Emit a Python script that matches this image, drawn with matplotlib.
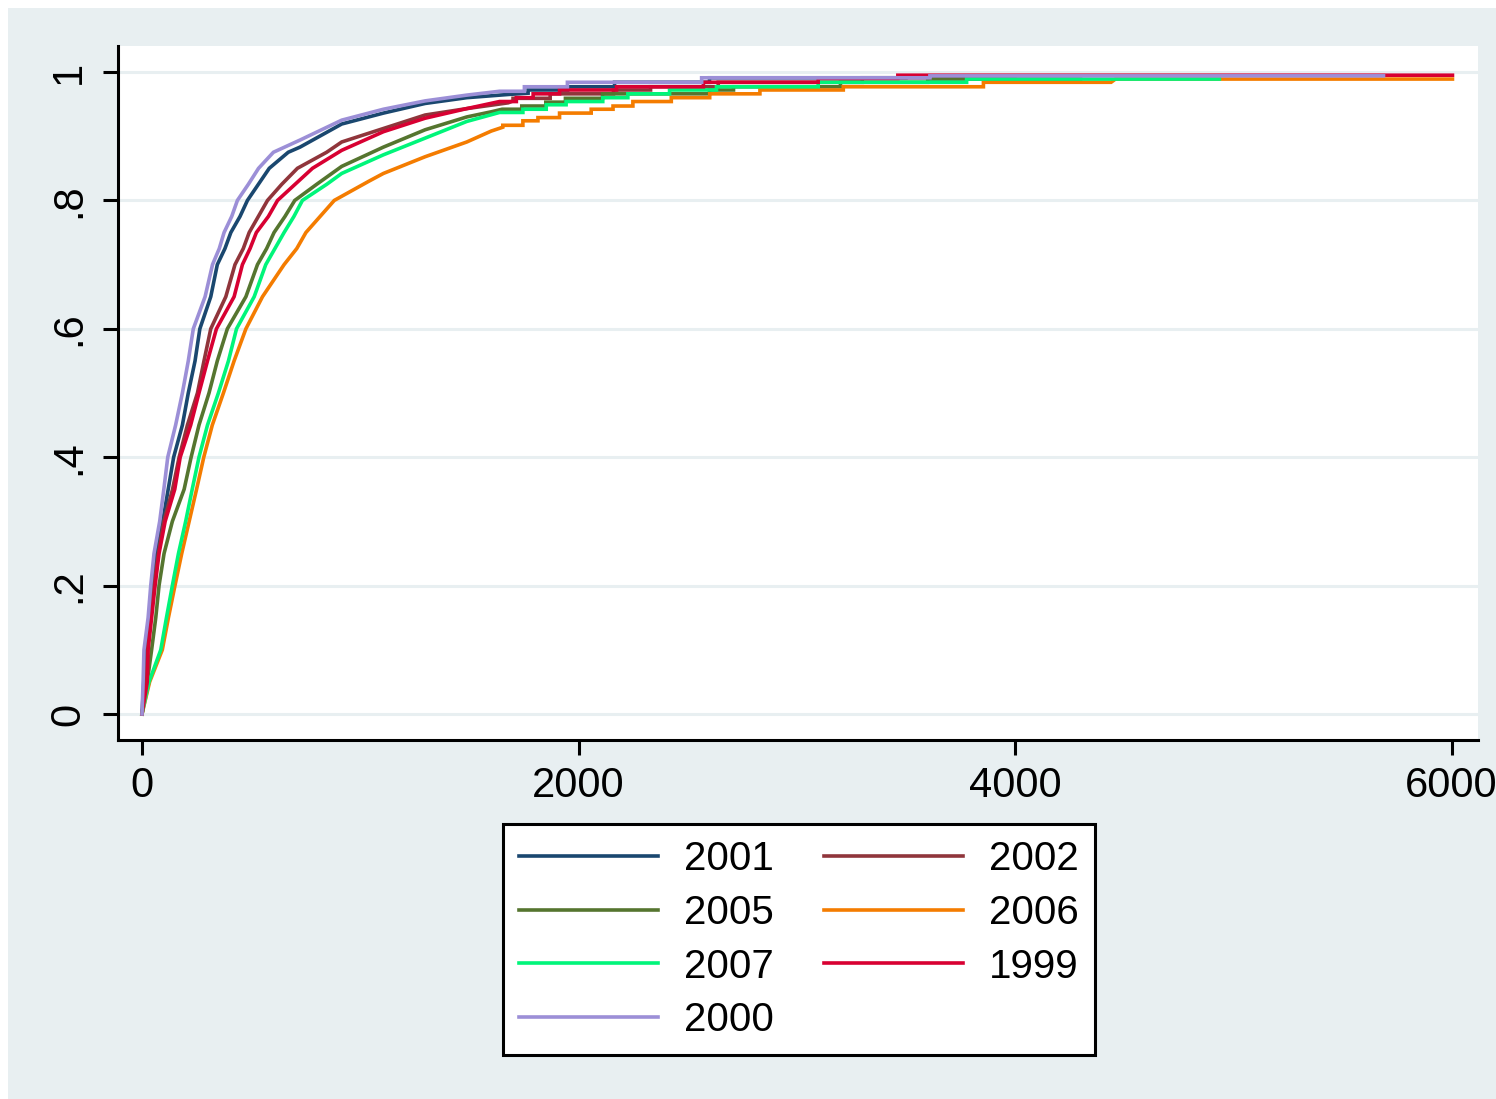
import matplotlib
matplotlib.use("Agg")
import matplotlib.pyplot as plt
from matplotlib.patches import Rectangle
from matplotlib.lines import Line2D

plt.rcParams['font.family'] = ['Liberation Sans', 'DejaVu Sans']

# cumulative share by duration (days), one series per cohort year
years = ["2001", "2002", "2005", "2006", "2007", "1999", "2000"]
colors = ["#1a476f", "#90353b", "#55752f", "#f47c00", "#00f57a", "#d80032", "#9c8fd7"]

x_2001 = [0, 8, 18, 35, 50, 68, 95, 120, 145, 185, 212, 243, 265, 315, 345, 380, 407, 449, 483,
          533, 583, 670, 724, 915, 1106, 1297, 1488, 1678, 1769, 1769, 1950, 1950, 2165, 2165,
          2600, 2600, 3500]
F_2001 = [0, .05, .10, .15, .20, .25, .30, .35, .40, .45, .50, .55, .60, .65, .70, .725, .75,
          .775, .80, .825, .85, .875, .883, .919, .936, .951, .960, .965, .967, .972, .972, .977,
          .977, .984, .984, .991, .991]

x_2002 = [0, 20, 25, 40, 55, 75, 100, 140, 170, 208, 254, 284, 315, 384, 426, 464, 491, 533, 575,
          640, 712, 846, 915, 1106, 1297, 1488, 1678, 1700, 1700, 1870, 1870, 2160, 2160, 2330,
          2330, 2640, 2640, 3300, 3300, 4000]
F_2002 = [0, .05, .10, .15, .20, .25, .30, .35, .40, .45, .50, .55, .60, .65, .70, .725, .75,
          .775, .80, .825, .85, .875, .891, .912, .933, .943, .952, .955, .959, .959, .966, .966,
          .972, .972, .977, .977, .984, .984, .991, .991]

x_2005 = [0, 24, 44, 63, 78, 101, 139, 193, 225, 261, 307, 345, 391, 476, 529, 571, 605, 655, 700,
          800, 915, 1106, 1297, 1488, 1600, 1650, 1740, 1740, 1850, 1850, 1940, 1940, 2110, 2110,
          2600, 2600, 2710, 2710, 3200, 3200, 3600, 3600, 4300]
F_2005 = [0, .05, .10, .15, .20, .25, .30, .35, .40, .45, .50, .55, .60, .65, .70, .725, .75,
          .775, .80, .825, .853, .883, .910, .930, .938, .942, .942, .947, .947, .953, .953, .959,
          .959, .966, .966, .972, .972, .977, .977, .984, .984, .989, .989]

x_2006 = [0, 35, 93, 121, 151, 182, 216, 250, 283, 322, 373, 422, 476, 552, 651, 709, 751, 816,
          881, 1040, 1106, 1297, 1488, 1600, 1653, 1653, 1745, 1745, 1814, 1814, 1913, 1913, 2058,
          2058, 2158, 2158, 2249, 2249, 2425, 2425, 2601, 2601, 2831, 2831, 3213, 3213, 3855,
          3855, 4440, 4460, 6004]
F_2006 = [0, .05, .10, .15, .20, .25, .30, .35, .40, .45, .50, .55, .60, .65, .70, .725, .75,
          .775, .80, .83, .842, .868, .891, .908, .914, .917, .917, .924, .924, .929, .929, .936,
          .936, .942, .942, .947, .947, .954, .954, .960, .960, .966, .966, .972, .972, .977,
          .977, .984, .984, .989, .989]

x_2007 = [0, 32, 86, 112, 139, 167, 200, 230, 261, 300, 350, 396, 433, 514, 567, 609, 651, 696,
          735, 846, 915, 1106, 1297, 1488, 1638, 1745, 1745, 1852, 1852, 1943, 1943, 2111, 2111,
          2226, 2226, 2417, 2417, 2632, 2632, 3098, 3098, 3778, 3778, 4936]
F_2007 = [0, .05, .10, .15, .20, .25, .30, .35, .40, .45, .50, .55, .60, .65, .70, .725, .75,
          .775, .80, .825, .842, .871, .897, .923, .937, .937, .942, .942, .949, .949, .954, .954,
          .960, .960, .966, .966, .972, .972, .977, .977, .984, .984, .989, .989]

x_1999 = [0, 24, 28, 44, 60, 78, 106, 150, 175, 223, 261, 300, 341, 422, 460, 495, 524, 579, 621,
          701, 781, 915, 1106, 1297, 1488, 1638, 1715, 1715, 1792, 1792, 1913, 1913, 2174, 2174,
          2572, 2572, 3098, 3098, 3463, 3463, 6004]
F_1999 = [0, .05, .10, .15, .20, .25, .30, .35, .40, .45, .50, .55, .60, .65, .70, .725, .75,
          .775, .80, .825, .85, .878, .907, .928, .943, .954, .954, .960, .960, .966, .966, .972,
          .972, .977, .977, .984, .984, .990, .990, .995, .995]

x_2000 = [0, 5, 9, 28, 40, 55, 81, 100, 118, 154, 185, 212, 235, 289, 323, 354, 376, 411, 437,
          487, 534, 602, 724, 915, 1106, 1297, 1488, 1638, 1752, 1752, 1949, 1949, 2564, 2564,
          3610, 3610, 5688]
F_2000 = [0, .05, .10, .15, .20, .25, .30, .35, .40, .45, .50, .55, .60, .65, .70, .725, .75,
          .775, .80, .825, .85, .875, .894, .925, .942, .955, .964, .970, .970, .977, .977, .984,
          .984, .991, .991, .994, .994]

series = [(x_2001, F_2001), (x_2002, F_2002), (x_2005, F_2005), (x_2006, F_2006),
          (x_2007, F_2007), (x_1999, F_1999), (x_2000, F_2000)]

bg = "#e8eff1"
W, H = 1496, 1099

fig = plt.figure(figsize=(W / 100, H / 100), dpi=100, facecolor="white")
fig.patches.append(Rectangle((8 / W, 0), 1 - 8 / W, 1 - 8 / H, transform=fig.transFigure,
                             facecolor=bg, edgecolor="none", zorder=-10))

ax = fig.add_axes([118 / W, 1 - 740 / H, (1478 - 118) / W, (740 - 46) / H])
ax.set_facecolor("white")

for (xs, fs), c in zip(series, colors):
    ax.plot(xs, fs, color=c, lw=2.6, solid_joinstyle="miter")

ax.set_xlim(-110, 6121)
ax.set_ylim(-0.0405, 1.0405)
ax.set_xticks([0, 2000, 4000, 6000])
ax.set_xticklabels(["0", "2000", "4000", "6000"])
ax.set_yticks([0, .2, .4, .6, .8, 1])
ax.set_yticklabels(["0", ".2", ".4", ".6", ".8", "1"], rotation=90, va="center")

ax.yaxis.grid(True, color=bg, lw=2.2)
ax.set_axisbelow(True)

for s in ["top", "right"]:
    ax.spines[s].set_visible(False)
for s in ["left", "bottom"]:
    ax.spines[s].set_linewidth(2.2)
    ax.spines[s].set_color("black")
ax.tick_params(direction="out", length=11, width=2.2, labelsize=30, colors="black")
ax.tick_params(axis="x", pad=8)
ax.tick_params(axis="y", pad=10)

handles = [Line2D([], [], color=c, lw=2.6) for c in colors]
order = [0, 2, 4, 6, 1, 3, 5]
leg = fig.legend([handles[i] for i in order], [years[i] for i in order], ncol=2,
                 loc="upper left", bbox_to_anchor=(503 / W, 1 - 824 / H), borderaxespad=0,
                 fontsize=29, handlelength=3.45, handletextpad=0.64, columnspacing=1.25,
                 labelspacing=0.39, borderpad=0.4, fancybox=False, framealpha=1)
leg.get_frame().set_edgecolor("black")
leg.get_frame().set_linewidth(2.2)

fig.savefig("out.png", dpi=100, facecolor="white")
